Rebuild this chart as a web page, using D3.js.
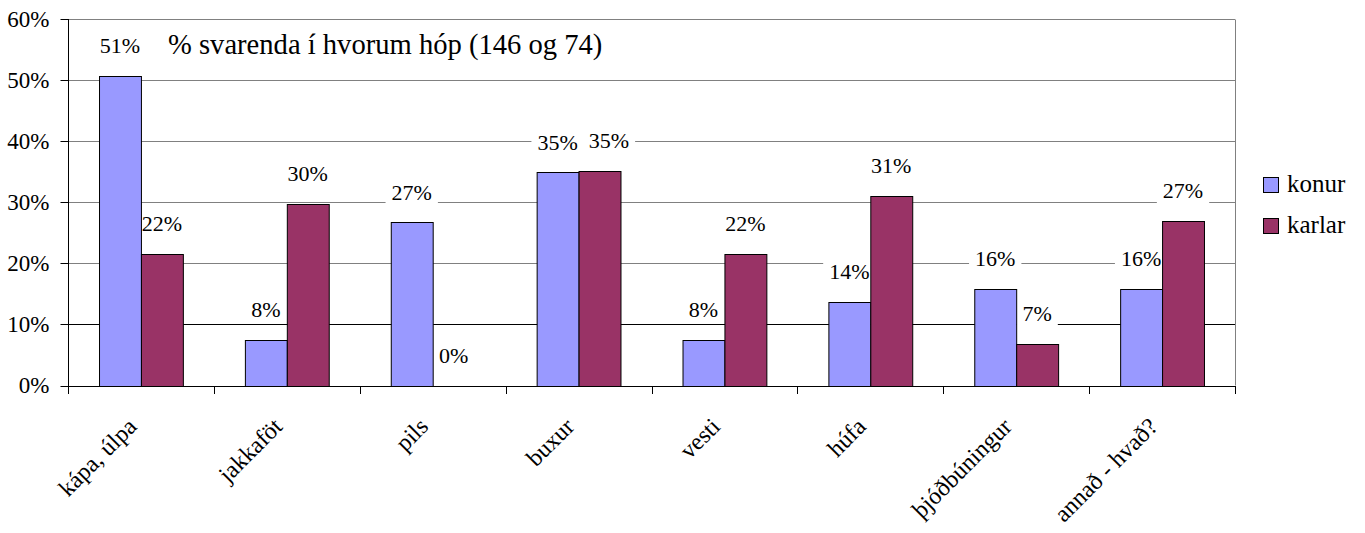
<!DOCTYPE html>
<html>
<head>
<meta charset="utf-8">
<script src="https://cdn.jsdelivr.net/npm/d3@7/dist/d3.min.js"></script>
</head>
<body style="margin:0;background:#fff">
<svg id="chart" width="1365" height="533"></svg>
<script>
const categories = ["kápa, úlpa", "jakkaföt", "pils", "buxur", "vesti", "húfa", "þjóðbúningur", "annað - hvað?"];
const seriesNames = ["konur", "karlar"];
const konur = [50.7, 7.5, 26.7, 34.9, 7.5, 13.7, 15.8, 15.8];
const karlar = [21.6, 29.7, 0, 35.1, 21.6, 31.1, 6.8, 27.0];
const yTicks = [0, 10, 20, 30, 40, 50, 60];
const title = "% svarenda í hvorum hóp (146 og 74)";
const colors = ["#9999FF", "#993366"];

(function () {
const FONT = "'Liberation Serif', 'Times New Roman', serif";
const svg = d3.select("#chart");
const pLeft = 68, pRight = 1235, pTop = 19, pBottom = 385.5;

const x = d3.scaleBand().domain(categories).range([pLeft, pRight]).padding(0);
const xs = d3.scaleBand().domain(seriesNames).range([0, x.bandwidth()]).paddingInner(0).paddingOuter(0.74);
const y = d3.scaleLinear().domain([0, 60]).range([pBottom, pTop]);

function txt(sel, size) {
  return sel.style("font-family", FONT).style("font-size", size + "px").attr("fill", "#000");
}

// gridlines
svg.append("g").selectAll("line").data(yTicks.filter(d => d > 0)).join("line")
  .attr("x1", pLeft).attr("x2", pRight)
  .attr("y1", d => Math.round(y(d)) + 0.5).attr("y2", d => Math.round(y(d)) + 0.5)
  .attr("stroke", d => d === 10 ? "#000" : "#808080").attr("stroke-width", 1);

// right border
svg.append("line").attr("x1", pRight + 0.5).attr("x2", pRight + 0.5)
  .attr("y1", Math.round(pTop) + 0.5).attr("y2", pBottom)
  .attr("stroke", "#808080");

const data = categories.map((c, i) => ({ cat: c, vals: [konur[i], karlar[i]] }));

// data labels (background boxes beneath bars, text on top)
const labelBoxes = svg.append("g");
const barLayer = svg.append("g");
const labelTexts = svg.append("g");
data.forEach(d => {
  let prev = null;
  d.vals.forEach((v, j) => {
    let cx = x(d.cat) + xs(seriesNames[j]) + xs.bandwidth() / 2;
    const cy = y(v) - 30;
    const t = txt(labelTexts.append("text"), 22).attr("x", cx).attr("y", cy).attr("dy", "0.33em")
      .attr("text-anchor", "middle")
      .text(Math.round(v) + "%");
    const w = t.node().getComputedTextLength();
    // avoid overlapping with the neighbouring label in the same group
    if (prev && Math.abs(prev.cy - cy) < 22) {
      const minLeft = prev.cx + prev.w / 2 + 11;
      if (cx - w / 2 < minLeft) { cx = minLeft + w / 2; t.attr("x", cx); }
    }
    labelBoxes.append("rect").attr("x", cx - w / 2 - 6).attr("y", cy - 13)
      .attr("width", w + 12).attr("height", 26).attr("fill", "#fff");
    prev = { cx, cy, w };
  });
});

// bars
const groups = barLayer.selectAll("g").data(data).join("g")
  .attr("transform", d => `translate(${x(d.cat)},0)`);
groups.selectAll("rect").data(d => d.vals.map((v, j) => ({ v, s: seriesNames[j], j }))).join("rect")
  .attr("x", d => xs(d.s) + 0.5)
  .attr("width", xs.bandwidth())
  .attr("y", d => Math.round(y(d.v)) + 0.5)
  .attr("height", d => Math.max(0, Math.round(pBottom) - Math.round(y(d.v))))
  .attr("fill", d => colors[d.j])
  .attr("stroke", "#000").attr("stroke-width", 1)
  .style("display", d => d.v > 0 ? null : "none");

// axes
const yAxis = svg.append("g").attr("transform", `translate(${pLeft + 0.5},0)`);
yAxis.append("line").attr("x1", 0).attr("x2", 0).attr("y1", pTop).attr("y2", pBottom + 0.5).attr("stroke", "#000");
yAxis.selectAll("line.t").data(yTicks).join("line").attr("class", "t")
  .attr("x1", -8).attr("x2", 0)
  .attr("y1", d => Math.round(y(d)) + 0.5).attr("y2", d => Math.round(y(d)) + 0.5)
  .attr("stroke", "#000");
txt(yAxis.selectAll("text").data(yTicks).join("text"), 23)
  .attr("x", -19).attr("y", d => y(d)).attr("dy", "0.33em")
  .attr("text-anchor", "end")
  .text(d => d + "%");

const xAxis = svg.append("g");
xAxis.append("line").attr("x1", pLeft).attr("x2", pRight + 1)
  .attr("y1", Math.round(pBottom) + 0.5).attr("y2", Math.round(pBottom) + 0.5).attr("stroke", "#000");
const boundaries = categories.map(c => x(c)).concat([pRight]);
xAxis.selectAll("line.t").data(boundaries).join("line").attr("class", "t")
  .attr("x1", d => Math.round(d) + 0.5).attr("x2", d => Math.round(d) + 0.5)
  .attr("y1", Math.round(pBottom)).attr("y2", Math.round(pBottom) + 8)
  .attr("stroke", "#000");
txt(xAxis.selectAll("text").data(categories).join("text"), 24)
  .attr("transform", d => `translate(${x(d) + x.bandwidth() / 2 - 3},428) rotate(-45)`)
  .attr("text-anchor", "end")
  .text(d => d);

// title
txt(svg.append("text"), 28.6).attr("x", 168).attr("y", 54).text(title);

// legend
const legend = svg.append("g");
seriesNames.forEach((s, i) => {
  const yy = 177 + i * 41;
  legend.append("rect").attr("x", 1263.5).attr("y", yy + 0.5).attr("width", 15).attr("height", 15)
    .attr("fill", colors[i]).attr("stroke", "#000");
  txt(legend.append("text"), 25).attr("x", 1287).attr("y", yy + 15).text(s);
});
})();
</script>
</body>
</html>
